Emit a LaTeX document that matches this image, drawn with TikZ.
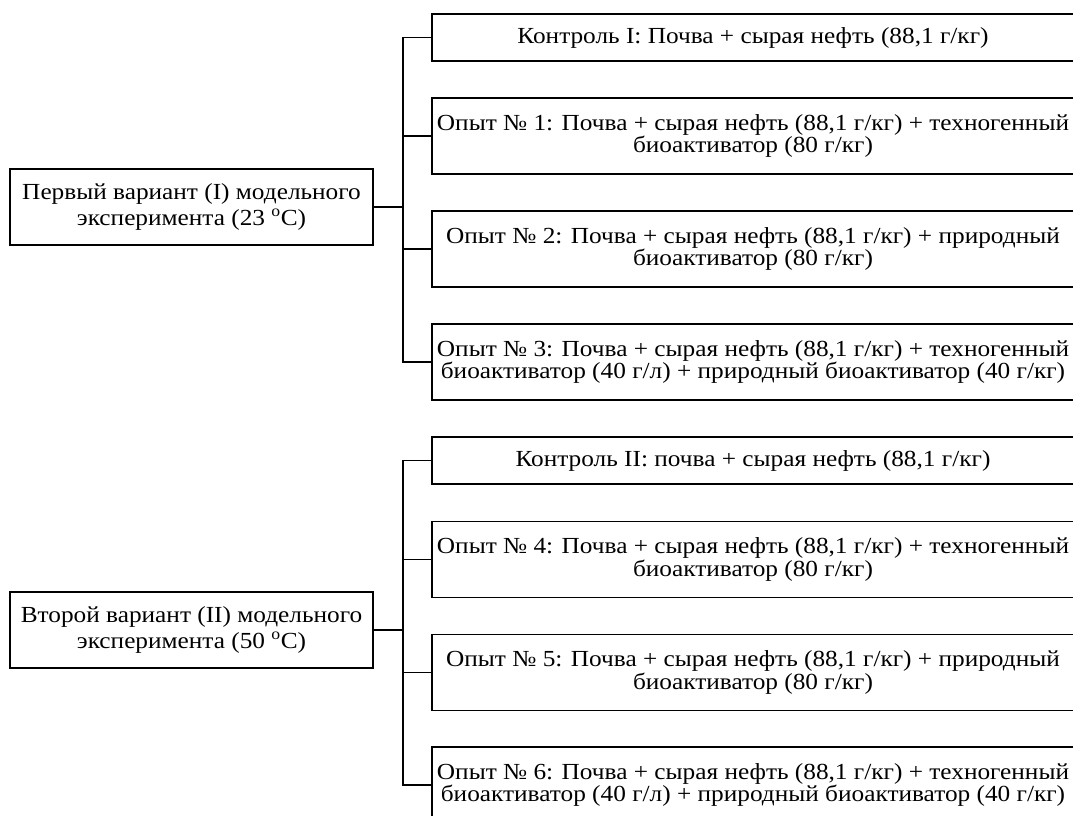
\documentclass[tikz,border=0pt]{standalone}
\usepackage{fontspec}
\setmainfont{Liberation Serif}[FakeStretch=1.1]

\tikzset{
  varbox/.style={draw, line width=1.2pt, minimum width=363pt, minimum height=76pt,
    inner sep=0pt, align=center, font=\fontsize{23}{26}\selectfont},
  expbox/.style={draw, line width=1.2pt, minimum width=642pt, minimum height=76pt,
    inner sep=0pt, align=center, font=\fontsize{23}{19}\selectfont},
  ctrlbox/.style={expbox, minimum height=47pt},
  link/.style={line width=1.2pt}
}

\begin{document}
\begin{tikzpicture}[x=1pt,y=-1pt]
      \useasboundingbox (0,0) rectangle (1073,816);
      % first variant
      \node[varbox] (var1) at (191.5,207) {Первый вариант (I) модельного\\эксперимента (23 \textsuperscript{o}C)};
      \node[ctrlbox] (k1) at (753,37.5) {Контроль I: Почва + сырая нефть (88,1 г/кг)};
      \node[expbox] (o1) at (753,136) {Опыт № 1: Почва + сырая нефть (88,1 г/кг) + техногенный\\биоактиватор (80 г/кг)};
      \node[expbox] (o2) at (753,249) {Опыт № 2: Почва + сырая нефть (88,1 г/кг) + природный\\биоактиватор (80 г/кг)};
      \node[expbox] (o3) at (753,362) {Опыт № 3: Почва + сырая нефть (88,1 г/кг) + техногенный\\биоактиватор (40 г/л) + природный биоактиватор (40 г/кг)};
      \coordinate (b1) at (403,207);
      \draw[link] (var1.east) -- (b1);
      \foreach \n in {k1,o1,o2,o3} \draw[link] (\n.west) -| (b1);
      % second variant
      \node[varbox] (var2) at (191.5,630) {Второй вариант (II) модельного\\эксперимента (50 \textsuperscript{o}C)};
      \node[ctrlbox] (k2) at (753,460.5) {Контроль II: почва + сырая нефть (88,1 г/кг)};
      \node[expbox] (o4) at (753,559.5) {Опыт № 4: Почва + сырая нефть (88,1 г/кг) + техногенный\\биоактиватор (80 г/кг)};
      \node[expbox] (o5) at (753,672.5) {Опыт № 5: Почва + сырая нефть (88,1 г/кг) + природный\\биоактиватор (80 г/кг)};
      \node[expbox] (o6) at (753,785) {Опыт № 6: Почва + сырая нефть (88,1 г/кг) + техногенный\\биоактиватор (40 г/л) + природный биоактиватор (40 г/кг)};
      \coordinate (b2) at (403,630);
      \draw[link] (var2.east) -- (b2);
      \foreach \n in {k2,o4,o5,o6} \draw[link] (\n.west) -| (b2);
    \end{tikzpicture}
\end{document}
